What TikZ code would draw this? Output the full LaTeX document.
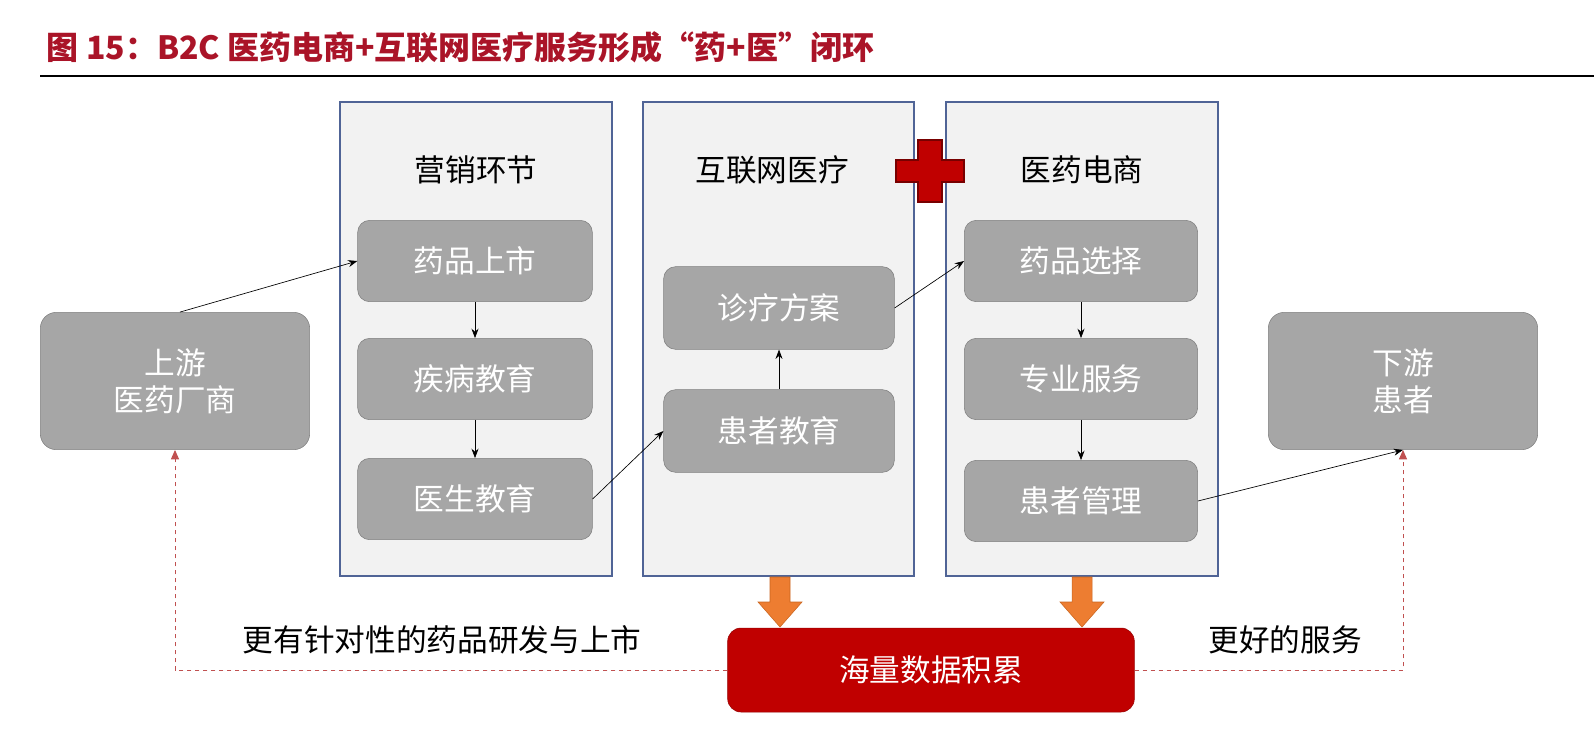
\documentclass[tikz,border=0pt]{standalone}
\usepackage{fontspec}
\setmainfont{Noto Sans CJK SC}
\usetikzlibrary{arrows.meta}
\definecolor{titlered}{RGB}{170,20,40}
\definecolor{boxgray}{RGB}{166,166,166}
\definecolor{panelline}{RGB}{80,100,150}
\definecolor{datared}{RGB}{192,0,0}
\definecolor{orangearr}{RGB}{237,125,49}
\tikzset{
  panel/.style={draw=panelline, line width=1.2pt, fill={rgb,255:red,242;green,242;blue,242}},
  stepbox/.style={draw={rgb,255:red,127;green,127;blue,127}, fill=boxgray, rounded corners=9pt, text=white, font=\fontsize{23}{28}\selectfont, align=center},
  link/.style={-{Stealth[length=7pt]}, line width=0.5pt},
  loopback/.style={dashed, draw={rgb,255:red,192;green,80;blue,80}, line width=0.7pt, -{Triangle[length=7pt,width=6pt]}},
}
\begin{document}
\begin{tikzpicture}[x=0.75pt,y=0.75pt,yscale=-1,xscale=1]
	% title
	\node [anchor=west, text=titlered, font=\fontsize{24}{28}\selectfont\bfseries] (title) at (42,47) {图 15：B2C 医药电商+互联网医疗服务形成“药+医”闭环};
	\draw [line width=1.5pt] (40,76) -- (1594,76);
	% panels
	\draw [panel] (340,102) rectangle (612,576);
	\draw [panel] (643,102) rectangle (914,576);
	\draw [panel] (946,102) rectangle (1218,576);
	\node [font=\fontsize{23}{28}\selectfont] (p1) at (476,170) {营销环节};
	\node [font=\fontsize{23}{28}\selectfont] (p2) at (772,170) {互联网医疗};
	\node [font=\fontsize{23}{28}\selectfont] (p3) at (1082,170) {医药电商};
	% red plus
	\draw [fill=datared, draw={rgb,255:red,120;green,0;blue,0}, line width=1pt] (918,140) -- (942,140) -- (942,160) -- (964,160) -- (964,182) -- (942,182) -- (942,202) -- (918,202) -- (918,182) -- (896,182) -- (896,160) -- (918,160) -- cycle;
	% steps
	\node [stepbox, minimum width=176pt, minimum height=61pt] (a1) at (475,261) {药品上市};
	\node [stepbox, minimum width=176pt, minimum height=61pt] (a2) at (475,379) {疾病教育};
	\node [stepbox, minimum width=176pt, minimum height=61pt] (a3) at (475,499) {医生教育};
	\node [stepbox, minimum width=173pt, minimum height=62pt] (b1) at (779,308) {诊疗方案};
	\node [stepbox, minimum width=173pt, minimum height=62pt] (b2) at (779,431) {患者教育};
	\node [stepbox, minimum width=175pt, minimum height=61pt] (c1) at (1081,261) {药品选择};
	\node [stepbox, minimum width=175pt, minimum height=61pt] (c2) at (1081,379) {专业服务};
	\node [stepbox, minimum width=175pt, minimum height=61pt] (c3) at (1081,501) {患者管理};
	\node [stepbox, minimum width=202pt, minimum height=103pt, rounded corners=12pt] (up) at (175,381) {上游\\医药厂商};
	\node [stepbox, minimum width=202pt, minimum height=103pt, rounded corners=12pt] (down) at (1403,381) {下游\\患者};
	\node [stepbox, fill=datared, draw={rgb,255:red,150;green,0;blue,0}, minimum width=305pt, minimum height=63pt, rounded corners=10pt] (data) at (931,670) {海量数据积累};
	% connectors
	\draw [link] (a1) -- (a2);
	\draw [link] (a2) -- (a3);
	\draw [link] (b2) -- (b1);
	\draw [link] (c1) -- (c2);
	\draw [link] (c2) -- (c3);
	\draw [link] (up.north) ++(5,0) coordinate (u0) -- (a1.west);
	\draw [link] (a3.east) -- (b2.west);
	\draw [link] (b1.east) -- (c1.west);
	\draw [link] (c3.east) -- (down.south);
	% orange arrows
	\foreach \x in {780,1082}
		\draw [fill=orangearr, draw={rgb,255:red,200;green,100;blue,30}] (\x-10,577) -- (\x+10,577) -- (\x+10,602) -- (\x+22,602) -- (\x,627) -- (\x-22,602) -- (\x-10,602) -- cycle;
	% loop back
	\draw [loopback] (data.west) -| (up.south);
	\draw [loopback] (data.east) -| (down.south);
	\node [font=\fontsize{23}{28}\selectfont] (l1) at (442,640) {更有针对性的药品研发与上市};
	\node [font=\fontsize{23}{28}\selectfont] (l2) at (1285,640) {更好的服务};
	\pgfresetboundingbox
	\useasboundingbox (0,0) rectangle (1594,744);
\end{tikzpicture}
\end{document}
